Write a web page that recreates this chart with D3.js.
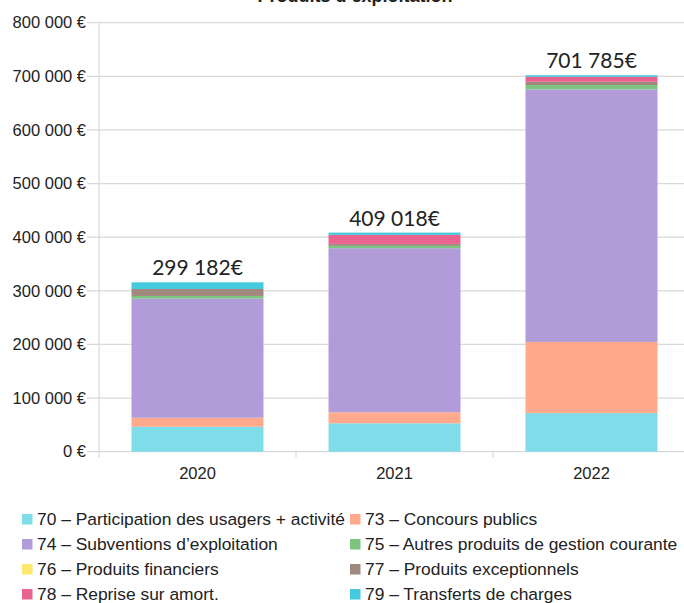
<!DOCTYPE html>
<html><head><meta charset="utf-8">
<script src="https://cdn.jsdelivr.net/npm/d3@7"></script>
<style>
html,body{margin:0;padding:0;background:#fff;}
svg{display:block;}
</style></head>
<body>
<svg id="chart" width="684" height="603"></svg>
<script>
// ---- data ----
const years = ["2020", "2021", "2022"];
const seriesNames = [
  "70 – Participation des usagers + activité",
  "73 – Concours publics",
  "74 – Subventions d’exploitation",
  "75 – Autres produits de gestion courante",
  "76 – Produits financiers",
  "77 – Produits exceptionnels",
  "78 – Reprise sur amort.",
  "79 – Transferts de charges"
];
const s70 = [46600, 53000, 72000];
const s73 = [16800, 20500, 132700];
const s74 = [222000, 306000, 471000];
const s75 = [5000, 4300, 8000];
const s76 = [0, 0, 0];
const s77 = [13000, 3700, 6000];
const s78 = [0, 16800, 9300];
const s79 = [12500, 4300, 3000];
const totalLabels = ["299 182€", "409 018€", "701 785€"];
const yTicks = [0, 100000, 200000, 300000, 400000, 500000, 600000, 700000, 800000];
const titleText = "Produits d’exploitation";

const colors = ["#7fdde9", "#ffa98d", "#b19cd9", "#7cc47f", "#ffe66d", "#a1887f", "#ea6290", "#45c9dc"];
const seriesVals = [s70, s73, s74, s75, s76, s77, s78, s79];

// ---- layout ----
const svg = d3.select("#chart");
const x0 = 99, x1 = 690, yTop = 22.7, yBottom = 451.7;

const x = d3.scaleBand().domain(years).range([x0, x1]).paddingInner(0.33).paddingOuter(0.165);
const y = d3.scaleLinear().domain([0, 800000]).range([yBottom, yTop]);

const fmt = v => (v === 0 ? "0" : d3.format(",")(v).replace(/,/g, " ")) + " €";

// title (cut at top, as in the reference)
svg.append("text").attr("x", 355).attr("y", 2).attr("text-anchor", "middle")
  .attr("font-family", "Liberation Sans, Arial, sans-serif").attr("font-weight", "bold")
  .attr("font-size", 18).attr("fill", "#222").text(titleText);

// gridlines
const grid = svg.append("g");
grid.selectAll("line").data(yTicks).join("line")
  .attr("x1", 87).attr("x2", 684)
  .attr("y1", d => y(d)).attr("y2", d => y(d))
  .attr("stroke", "#d9d9d9").attr("stroke-width", 1.2);

// y-axis line
svg.append("line").attr("x1", x0).attr("x2", x0).attr("y1", yTop).attr("y2", yBottom + 6)
  .attr("stroke", "#d9d9d9").attr("stroke-width", 1.2);

// category separators ticks
const seps = years.slice(1).map(yr => x(yr) - x.step() * x.paddingInner() / 2);
svg.selectAll("line.sep").data(seps).join("line").attr("class", "sep")
  .attr("x1", d => d).attr("x2", d => d).attr("y1", yBottom).attr("y2", yBottom + 6)
  .attr("stroke", "#d9d9d9").attr("stroke-width", 1.2);

// y tick labels
svg.append("g").selectAll("text").data(yTicks).join("text")
  .attr("x", 86).attr("y", d => y(d)).attr("dy", "0.35em").attr("text-anchor", "end")
  .attr("font-family", "Liberation Sans, Arial, sans-serif").attr("font-size", 16.5)
  .attr("fill", "#222").text(fmt);

// x labels
svg.append("g").selectAll("text").data(years).join("text")
  .attr("x", d => x(d) + x.bandwidth() / 2).attr("y", 479).attr("text-anchor", "middle")
  .attr("font-family", "Liberation Sans, Arial, sans-serif").attr("font-size", 16.5)
  .attr("fill", "#222").text(d => d);

// stacked bars
const rows = years.map((yr, i) => {
  const r = { year: yr };
  seriesNames.forEach((n, k) => r[n] = seriesVals[k][i]);
  return r;
});
const stack = d3.stack().keys(seriesNames)(rows);
svg.append("g").selectAll("g").data(stack).join("g")
  .attr("fill", (d, k) => colors[k])
  .selectAll("rect").data(d => d).join("rect")
  .attr("x", d => x(d.data.year)).attr("width", x.bandwidth())
  .attr("y", d => y(d[1])).attr("height", d => y(d[0]) - y(d[1]));

// total labels
const tops = years.map((yr, i) => stack[stack.length - 1][i][1]);
svg.append("g").selectAll("text").data(years).join("text")
  .attr("x", d => x(d) + x.bandwidth() / 2).attr("y", (d, i) => y(tops[i]) - 7)
  .attr("text-anchor", "middle").attr("font-family", "Lato, sans-serif").attr("font-size", 21)
  .attr("fill", "#222").text((d, i) => totalLabels[i]);

// legend
const legX = [22, 350];
const legY0 = 519, legDy = 25;
const leg = svg.append("g");
seriesNames.forEach((n, k) => {
  const col = k % 2, row = Math.floor(k / 2);
  const gx = legX[col], gy = legY0 + row * legDy;
  leg.append("rect").attr("x", gx).attr("y", gy - 5).attr("width", 10.5).attr("height", 10.5).attr("fill", colors[k]);
  leg.append("text").attr("x", gx + 15).attr("y", gy).attr("dy", "0.35em")
    .attr("font-family", "Liberation Sans, Arial, sans-serif").attr("font-size", 17.4)
    .attr("fill", "#222").text(n);
});
</script>
</body></html>
